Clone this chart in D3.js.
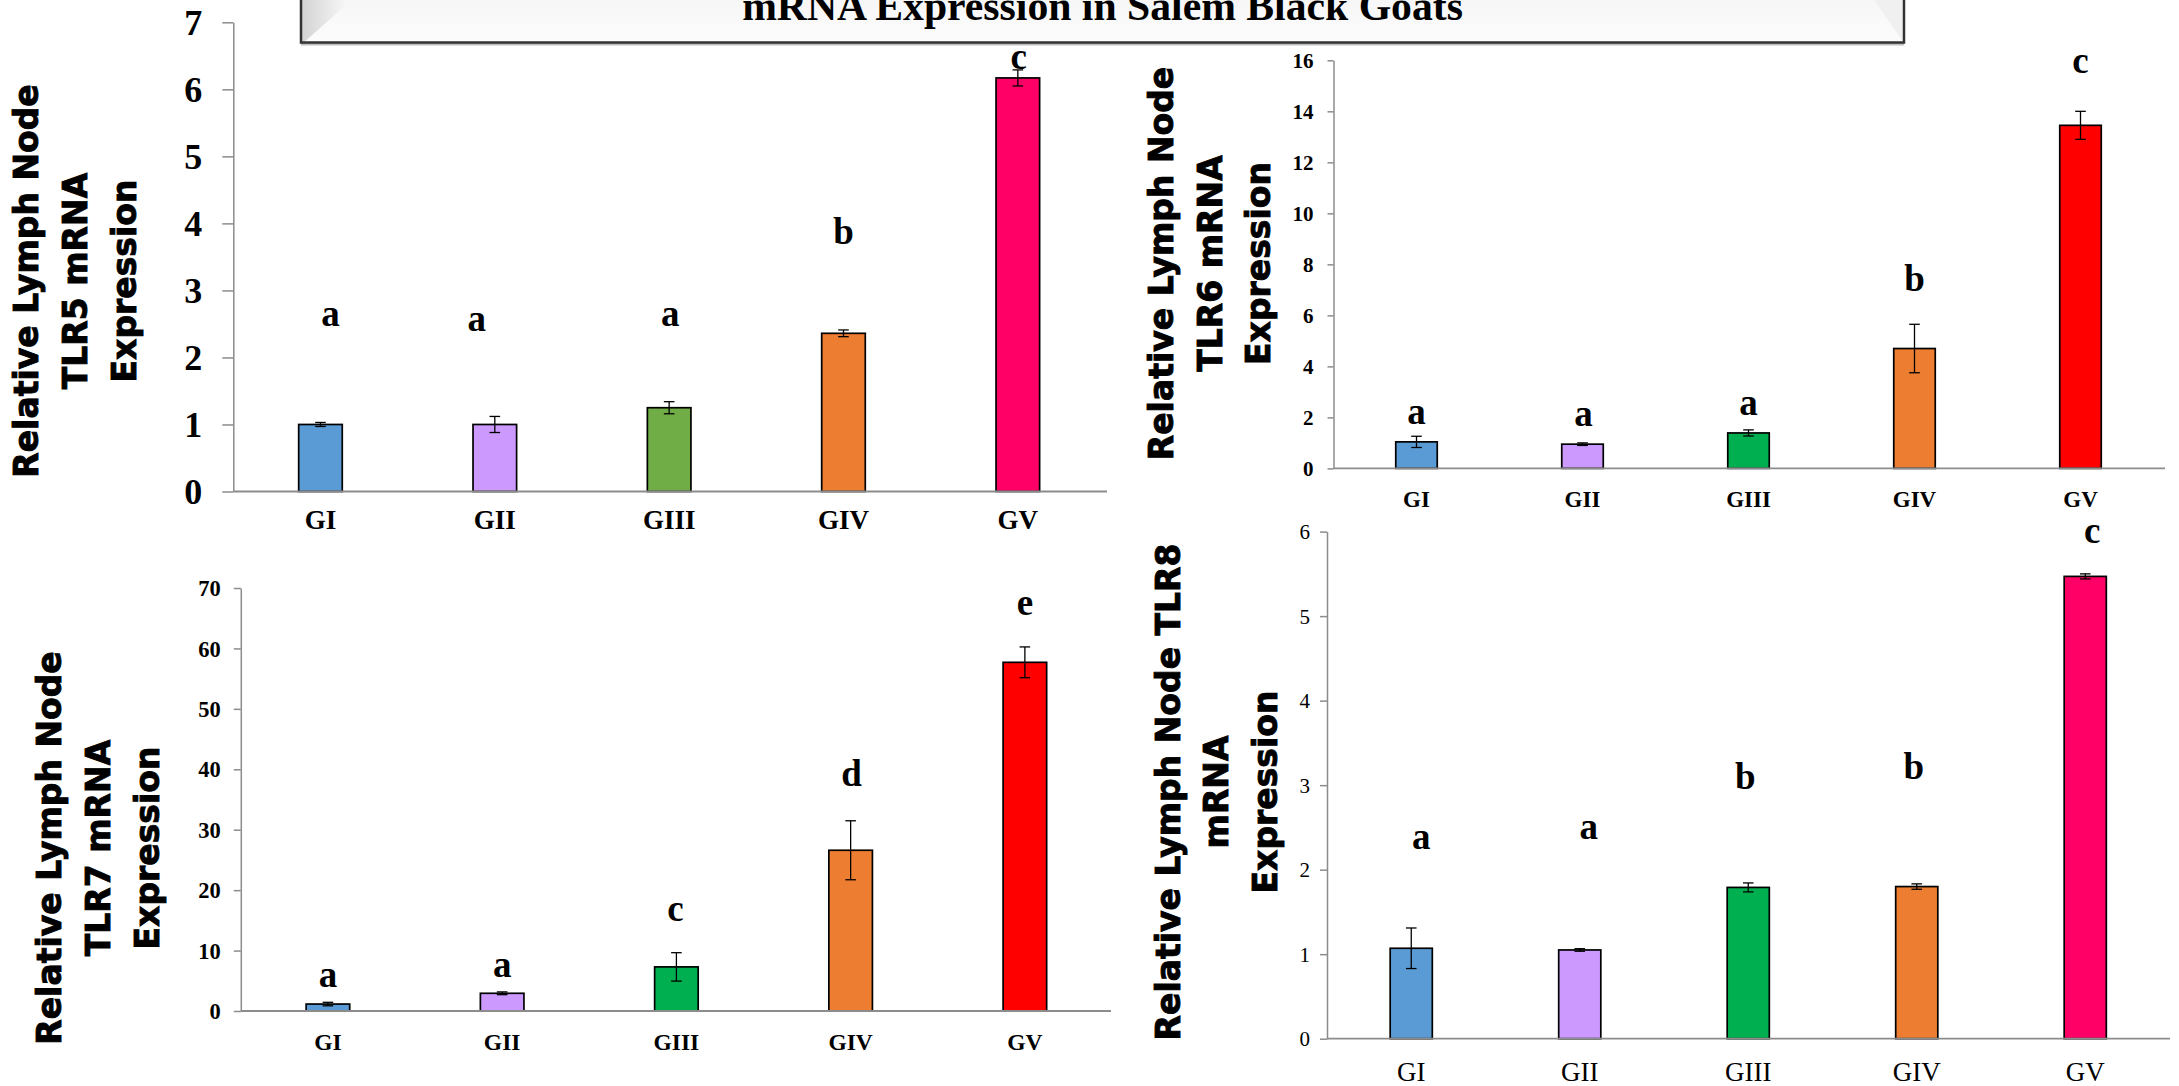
<!DOCTYPE html>
<html>
<head>
<meta charset="utf-8">
<script src="https://cdn.jsdelivr.net/npm/d3@7"></script>
<style>
  html, body { margin: 0; padding: 0; background: #ffffff; }
  svg { display: block; }
</style>
</head>
<body>
<script>
// ---------- DATA ----------
const groups = ["GI", "GII", "GIII", "GIV", "GV"];
const titleText = "mRNA Expression in Salem Black Goats";

const tlr5Mean = [1.00, 1.00, 1.25, 2.36, 6.17];
const tlr5Err = [0.03, 0.12, 0.09, 0.05, 0.12];
const tlr5Letters = ["a", "a", "a", "b", "c"];
const tlr5LetterY = [2.47, 2.40, 2.47, 3.69, 6.31];
const tlr5Ticks = [0, 1, 2, 3, 4, 5, 6, 7];
const tlr5Title = ["Relative Lymph Node", "TLR5 mRNA", "Expression"];

const tlr6Mean = [1.04, 0.95, 1.39, 4.70, 13.45];
const tlr6Err = [0.22, 0.05, 0.12, 0.95, 0.55];
const tlr6Letters = ["a", "a", "a", "b", "c"];
const tlr6LetterY = [1.76, 1.66, 2.10, 6.95, 15.5];
const tlr6Ticks = [0, 2, 4, 6, 8, 10, 12, 14, 16];
const tlr6Title = ["Relative Lymph Node", "TLR6 mRNA", "Expression"];

const tlr7Mean = [1.15, 2.93, 7.3, 26.6, 57.7];
const tlr7Err = [0.29, 0.23, 2.35, 4.88, 2.55];
const tlr7Letters = ["a", "a", "c", "d", "e"];
const tlr7LetterY = [4.03, 5.64, 14.9, 37.2, 65.5];
const tlr7Ticks = [0, 10, 20, 30, 40, 50, 60, 70];
const tlr7Title = ["Relative Lymph Node", "TLR7 mRNA", "Expression"];

const tlr8Mean = [1.07, 1.05, 1.79, 1.80, 5.47];
const tlr8Err = [0.24, 0.015, 0.053, 0.032, 0.03];
const tlr8Letters = ["a", "a", "b", "b", "c"];
const tlr8LetterY = [2.245, 2.36, 2.96, 3.07, 5.86];
const tlr8Ticks = [0, 1, 2, 3, 4, 5, 6];
const tlr8Title = ["Relative Lymph Node TLR8", "mRNA", "Expression"];

const colorsA = ["#5b9bd5", "#cc99ff", "#70ad47", "#ed7d31", "#ff0066"];
const colorsB = ["#5b9bd5", "#cc99ff", "#00b050", "#ed7d31", "#ff0000"];
const colorsC = ["#5b9bd5", "#cc99ff", "#00b050", "#ed7d31", "#ff0066"];

// ---------- LAYOUT ----------
const W = 2179, H = 1086;
const SERIF = "'Liberation Serif', 'Times New Roman', serif";
const SANS = "'DejaVu Sans', Verdana, sans-serif";

const svg = d3.select("body").append("svg")
  .attr("width", W).attr("height", H)
  .attr("viewBox", `0 0 ${W} ${H}`);

const panels = [
  { mean: tlr5Mean, err: tlr5Err, letters: tlr5Letters, letterY: tlr5LetterY, ticks: tlr5Ticks,
    title: tlr5Title, colors: colorsA, letterDx: [10, -18, 1, 0, 1],
    x0: 233.3, x1: 1107, xEnd: 1105, yBottom: 491.5, yTop: 22.3,
    tickLen: 11, tickPad: 20, tickFont: 36, tickWeight: "bold",
    xFont: 27, xWeight: "bold", xBase: 529,
    titleX: [38, 87, 136], titleY: 281 },
  { mean: tlr6Mean, err: tlr6Err, letters: tlr6Letters, letterY: tlr6LetterY, ticks: tlr6Ticks,
    title: tlr6Title, colors: colorsB, letterDx: [0, 1, 0, 0, 0],
    x0: 1333.5, x1: 2165, xEnd: 2163.5, yBottom: 468.4, yTop: 60.3,
    tickLen: 6, tickPad: 14, tickFont: 21, tickWeight: "bold",
    xFont: 23, xWeight: "bold", xBase: 507,
    titleX: [1173, 1222, 1270], titleY: 263.5 },
  { mean: tlr7Mean, err: tlr7Err, letters: tlr7Letters, letterY: tlr7LetterY, ticks: tlr7Ticks,
    title: tlr7Title, colors: colorsB, letterDx: [0, 0, -1, 1, 0],
    x0: 240.8, x1: 1111, xEnd: 1112, yBottom: 1011, yTop: 588,
    tickLen: 7, tickPad: 13, tickFont: 22.5, tickWeight: "bold",
    xFont: 23.5, xWeight: "bold", xBase: 1050,
    titleX: [61, 110, 159], titleY: 848 },
  { mean: tlr8Mean, err: tlr8Err, letters: tlr8Letters, letterY: tlr8LetterY, ticks: tlr8Ticks,
    title: tlr8Title, colors: colorsC, letterDx: [10, 9, -3, -3, 7],
    x0: 1327, x1: 2170, xEnd: 2169.5, yBottom: 1038.7, yTop: 531.6,
    tickLen: 7, tickPad: 10, tickFont: 21, tickWeight: "normal",
    xFont: 27, xWeight: "normal", xBase: 1081,
    titleX: [1180, 1228, 1277], titleY: 792 }
];

function drawPanel(p) {
  const g = svg.append("g");
  const yMax = p.ticks[p.ticks.length - 1];
  const x = d3.scaleBand().domain(groups).range([p.x0, p.xEnd])
    .paddingInner(0.75).paddingOuter(0.375);
  const y = d3.scaleLinear().domain([0, yMax]).range([p.yBottom, p.yTop]);

  // y axis
  const yAxis = g.append("g")
    .attr("transform", `translate(${p.x0},0)`)
    .call(d3.axisLeft(y).tickValues(p.ticks).tickFormat(d3.format("d"))
      .tickSize(p.tickLen).tickSizeOuter(0).tickPadding(p.tickPad));
  yAxis.select(".domain").attr("stroke", "#8c8c8c").attr("stroke-width", 1.5);
  yAxis.selectAll(".tick line").attr("stroke", "#8c8c8c").attr("stroke-width", 1.5);
  yAxis.selectAll(".tick text")
    .attr("font-family", SERIF).attr("font-size", p.tickFont)
    .attr("font-weight", p.tickWeight).attr("fill", "#000")
    .attr("dy", "0.34em");

  // bars
  g.selectAll("rect.bar").data(p.mean).join("rect")
    .attr("class", "bar")
    .attr("x", (d, i) => x(groups[i]))
    .attr("width", x.bandwidth())
    .attr("y", d => y(d))
    .attr("height", d => y(0) - y(d))
    .attr("fill", (d, i) => p.colors[i])
    .attr("stroke", "#000").attr("stroke-width", 1.7);

  // x axis line
  g.append("line")
    .attr("x1", p.x0).attr("x2", p.x1)
    .attr("y1", y(0)).attr("y2", y(0))
    .attr("stroke", "#8c8c8c").attr("stroke-width", 1.8);

  // error bars
  const cap = 5.3;
  const eb = g.selectAll("g.err").data(p.mean).join("g").attr("class", "err")
    .attr("stroke", "#000").attr("stroke-width", 1.3);
  eb.append("line")
    .attr("x1", (d, i) => x(groups[i]) + x.bandwidth() / 2)
    .attr("x2", (d, i) => x(groups[i]) + x.bandwidth() / 2)
    .attr("y1", (d, i) => y(d + p.err[i]))
    .attr("y2", (d, i) => y(d - p.err[i]));
  eb.append("line")
    .attr("x1", (d, i) => x(groups[i]) + x.bandwidth() / 2 - cap)
    .attr("x2", (d, i) => x(groups[i]) + x.bandwidth() / 2 + cap)
    .attr("y1", (d, i) => y(d + p.err[i]))
    .attr("y2", (d, i) => y(d + p.err[i]));
  eb.append("line")
    .attr("x1", (d, i) => x(groups[i]) + x.bandwidth() / 2 - cap)
    .attr("x2", (d, i) => x(groups[i]) + x.bandwidth() / 2 + cap)
    .attr("y1", (d, i) => y(d - p.err[i]))
    .attr("y2", (d, i) => y(d - p.err[i]));

  // x labels
  g.selectAll("text.xl").data(groups).join("text")
    .attr("class", "xl")
    .attr("x", d => x(d) + x.bandwidth() / 2)
    .attr("y", p.xBase)
    .attr("text-anchor", "middle")
    .attr("font-family", SERIF).attr("font-size", p.xFont)
    .attr("font-weight", p.xWeight).attr("fill", "#000")
    .text(d => d);

  // significance letters
  g.selectAll("text.sig").data(p.letters).join("text")
    .attr("class", "sig")
    .attr("x", (d, i) => x(groups[i]) + x.bandwidth() / 2 + p.letterDx[i])
    .attr("y", (d, i) => y(p.letterY[i]))
    .attr("text-anchor", "middle")
    .attr("font-family", SERIF).attr("font-size", 37)
    .attr("font-weight", "bold").attr("fill", "#000")
    .text(d => d);

  // y title (rotated)
  p.title.forEach((line, k) => {
    g.append("text")
      .attr("transform", `translate(${p.titleX[k]},${p.titleY}) rotate(-90)`)
      .attr("text-anchor", "middle")
      .attr("font-family", SANS).attr("font-size", 33)
      .attr("font-weight", "bold").attr("fill", "#000")
      .attr("stroke", "#000").attr("stroke-width", 0.9)
      .text(line);
  });
}

panels.forEach(drawPanel);

// ---------- TITLE BOX ----------
const defs = svg.append("defs");
const gl = defs.append("linearGradient").attr("id", "bevelL")
  .attr("x1", "0").attr("x2", "1").attr("y1", "0").attr("y2", "0");
gl.append("stop").attr("offset", "0").attr("stop-color", "#d2d2d2");
gl.append("stop").attr("offset", "1").attr("stop-color", "#f7f7f7");
const gf = defs.append("linearGradient").attr("id", "face")
  .attr("x1", "0").attr("x2", "0").attr("y1", "0").attr("y2", "1");
gf.append("stop").attr("offset", "0").attr("stop-color", "#f4f4f4");
gf.append("stop").attr("offset", "1").attr("stop-color", "#fcfcfc");

const bx0 = 301, bx1 = 1904, by0 = -20, by1 = 42.5;
const tb = svg.append("g");
tb.append("rect").attr("x", bx0).attr("y", by0 + 3).attr("width", bx1 - bx0).attr("height", by1 - by0)
  .attr("fill", "#bdbdbd");
tb.append("rect").attr("x", bx0).attr("y", by0).attr("width", bx1 - bx0).attr("height", by1 - by0)
  .attr("fill", "url(#face)");
tb.append("polygon")
  .attr("points", `${bx0},${by0} ${bx0 + 45},${by0} ${bx0 + 45},5 ${bx0 + 5},${by1 - 2} ${bx0},${by1}`)
  .attr("fill", "url(#bevelL)");
tb.append("polygon")
  .attr("points", `${bx1},${by0} ${bx1 - 45},${by0} ${bx1 - 30},0 ${bx1 - 3},${by1 - 4} ${bx1},${by1}`)
  .attr("fill", "#f0f0f0");
tb.append("rect").attr("x", bx0).attr("y", by0).attr("width", bx1 - bx0).attr("height", by1 - by0)
  .attr("fill", "none").attr("stroke", "#333").attr("stroke-width", 2.5);
tb.append("text")
  .attr("x", (bx0 + bx1) / 2).attr("y", 20)
  .attr("text-anchor", "middle")
  .attr("font-family", SERIF).attr("font-size", 41.7)
  .attr("font-weight", "bold").attr("fill", "#000")
  .text(titleText);
</script>
</body>
</html>
